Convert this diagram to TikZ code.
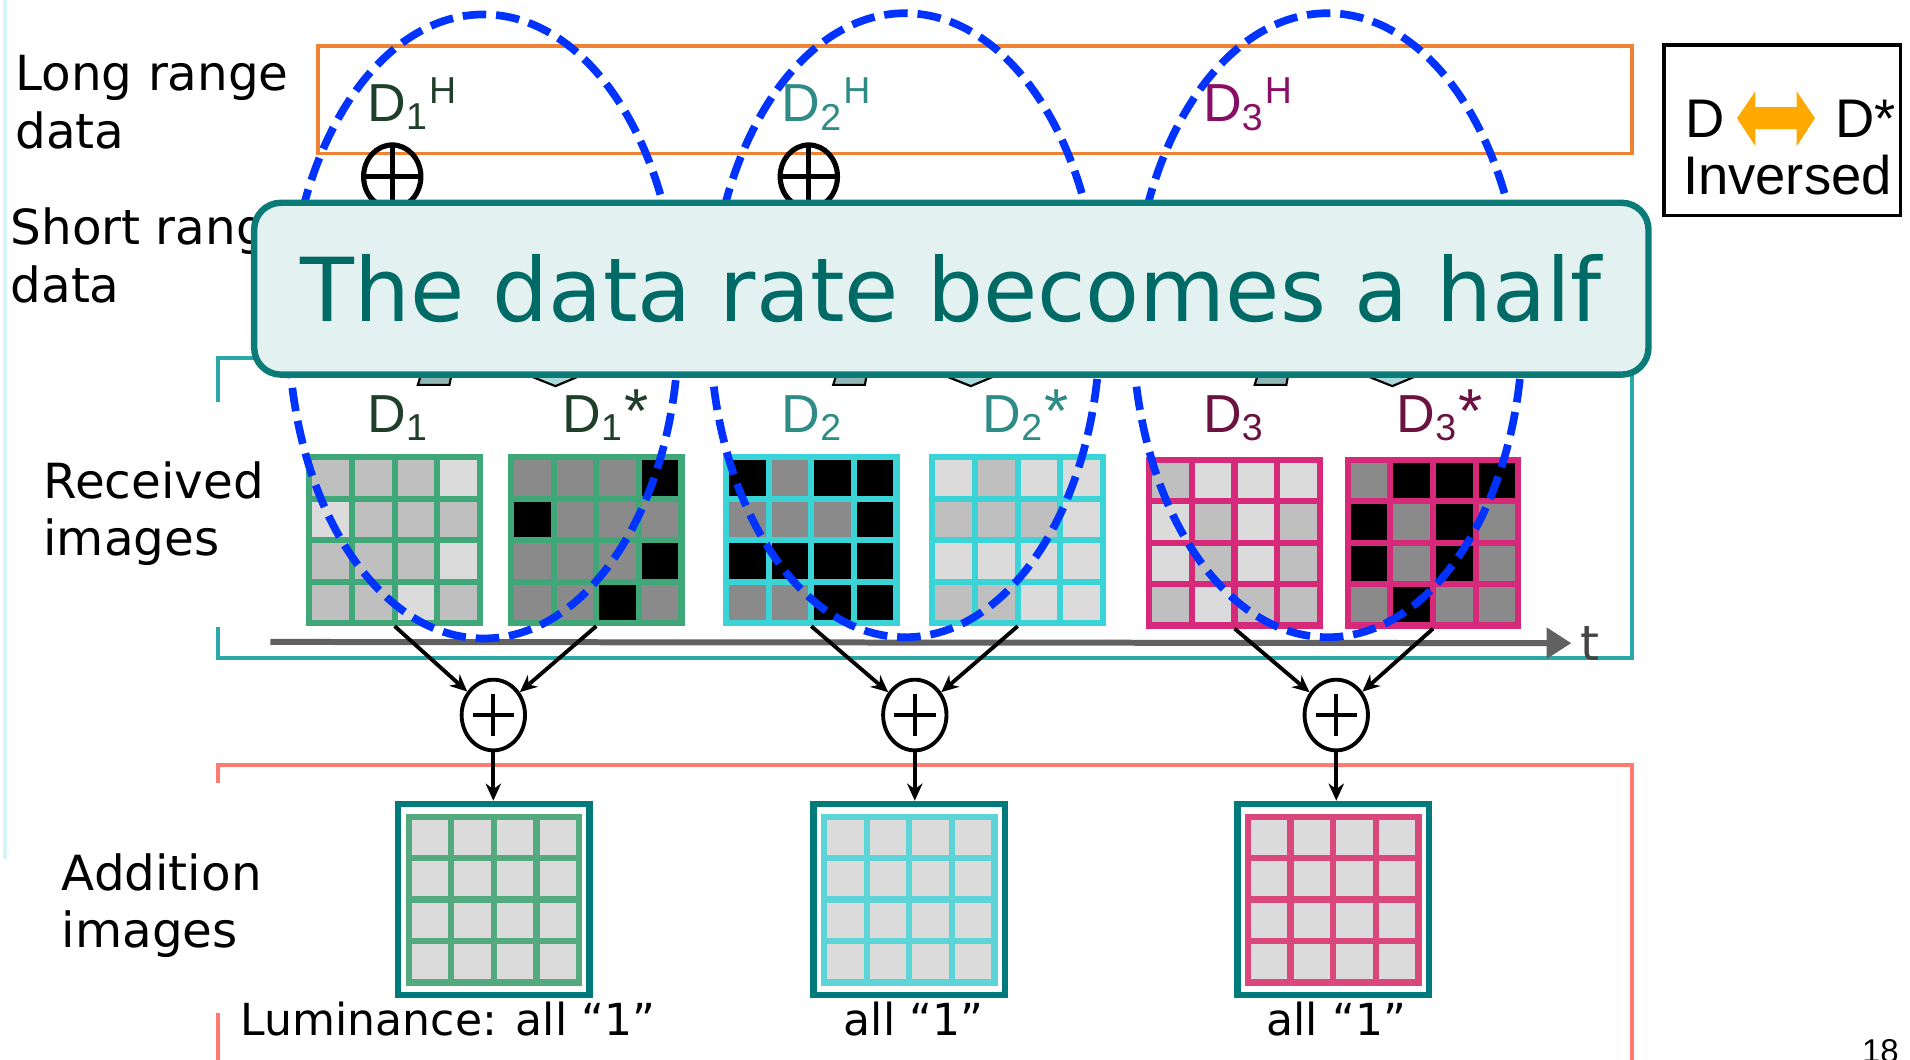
\documentclass[tikz,border=0pt]{standalone}
\usepackage{fontspec}
\setmainfont{DejaVu Sans}
\newfontfamily\arialfont{Liberation Sans}
\usetikzlibrary{arrows, arrows.meta, positioning, calc, shapes.geometric}
\definecolor{edgeC}{HTML}{D2F6F6}
\definecolor{orangeR}{HTML}{F08236}
\definecolor{tealF}{HTML}{2BA8A8}
\definecolor{salmonF}{HTML}{FF7B72}
\definecolor{ringB}{HTML}{0033FF}
\definecolor{msgF}{HTML}{E3F2F1}
\definecolor{msgD}{HTML}{0B7B78}
\definecolor{msgT}{HTML}{006B66}
\definecolor{gGreen}{HTML}{40A878}
\definecolor{gCyan}{HTML}{3AD3D6}
\definecolor{gPink}{HTML}{D6297A}
\definecolor{sGreen}{HTML}{52AA7E}
\definecolor{sCyan}{HTML}{5DD5D8}
\definecolor{sPink}{HTML}{D9477B}
\definecolor{boxT}{HTML}{007B7B}
\definecolor{labA}{HTML}{1F3F2A}
\definecolor{labB}{HTML}{2F8B85}
\definecolor{labC}{HTML}{6A1240}
\definecolor{pxL}{gray}{0.86}
\definecolor{pxM}{gray}{0.75}
\definecolor{pxD}{gray}{0.54}
\definecolor{pxK}{gray}{0}
\definecolor{axisG}{gray}{0.38}
\definecolor{legOr}{HTML}{FFA800}
\definecolor{qFill}{HTML}{8FB6B4}
\definecolor{vFill}{HTML}{A9D9D8}
\tikzset{
  lbl/.style={font=\fontsize{11.3}{13.4}\selectfont, align=left, inner sep=0pt},
  dlab/.style={font=\arialfont\fontsize{12.5}{15}\selectfont, inner sep=0pt, anchor=base west},
  grd/.style={rectangle, inner sep=0pt, outer sep=0pt, minimum width=1.45cm, minimum height=1.41cm},
  sbox/.style={rectangle, draw=boxT, line width=1.5pt, fill=white, minimum width=1.57cm, minimum height=1.57cm, inner sep=0pt},
  add/.style={ellipse, draw, line width=0.9pt, fill=white, minimum width=0.52cm, minimum height=0.58cm, inner sep=0pt,
    path picture={\draw[line width=0.9pt] ([xshift=-1.7mm]path picture bounding box.center) -- ([xshift=1.7mm]path picture bounding box.center)
      ([yshift=-1.7mm]path picture bounding box.center) -- ([yshift=1.7mm]path picture bounding box.center);}},
  xsym/.style={ellipse, draw, line width=1.2pt, minimum width=0.47cm, minimum height=0.52cm, inner sep=0pt,
    path picture={\draw[line width=1.2pt] (path picture bounding box.north) -- (path picture bounding box.south)
      (path picture bounding box.west) -- (path picture bounding box.east);}},
  ring/.style={ellipse, draw=ringB, line width=1.8pt, dash pattern=on 5.5pt off 2.3pt, minimum width=3.2cm, minimum height=5.12cm, inner sep=0pt},
  tra/.style={-{Stealth[length=4pt,width=3.6pt]}, line width=0.9pt},
  taxis/.style={-{Triangle[length=5.8pt,width=7pt]}, draw=axisG, line width=1.4pt},
  msg/.style={rectangle, rounded corners=0.22cm, draw=msgD, line width=1.5pt, fill=msgF, text=msgT,
    minimum width=11.44cm, minimum height=1.41cm, font=\fontsize{20.6}{24}\selectfont}
}
% #1 name, #2 centre, #3 line colour, #4 the 16 cells row by row
\newcommand{\pixgrid}[4]{%
  \node[grd, fill=#3] (#1) at #2 {};
  \foreach \pxc [count=\k from 0] in {#4}{%
    \pgfmathtruncatemacro{\gc}{mod(\k,4)}%
    \pgfmathtruncatemacro{\gr}{div(\k,4)}%
    \fill[\pxc] ($(#1.north west)+(5+35*\gc,5+34*\gr)$) rectangle ++(30,29);
  }%
}
\newcommand{\istar}{{\fontsize{14.5}{15}\selectfont *}}

\begin{document}
\begin{tikzpicture}[x=0.01cm, y=-0.01cm]
		\useasboundingbox (0,0) rectangle (1568,870);
		\clip (0,0) rectangle (1568,870);
		% frames
		\draw[edgeC, line width=1.1pt] (4,0) -- (4,705);
		\draw[orangeR, line width=0.9pt] (261,38) rectangle (1340,126);
		\draw[tealF, line width=0.9pt] (179,330) -- (179,294) -- (1340,294) -- (1340,540) -- (179,540) -- (179,515);
		\draw[salmonF, line width=0.9pt] (179,643) -- (179,628) -- (1340,628) -- (1340,880);
		\draw[salmonF, line width=0.9pt] (179,832) -- (179,880);
		% row labels
		\node[lbl, anchor=north west] (lrng) at (12,45) {Long range\\data};
		\node[lbl, anchor=north west] (srng) at (8,170) {Short range\\data};
		\node[lbl, anchor=north west] (recv) at (35,378) {Received\\images};
		\node[lbl, anchor=north west] (addi) at (50,700) {Addition\\images};
		% received images
		\pixgrid{g1}{(324,443.5)}{gGreen}{pxM,pxM,pxM,pxL, pxL,pxM,pxM,pxM, pxM,pxM,pxM,pxL, pxM,pxM,pxL,pxM}
		\pixgrid{g1s}{(489.5,443.5)}{gGreen}{pxD,pxD,pxD,pxK, pxK,pxD,pxD,pxD, pxD,pxD,pxD,pxK, pxD,pxD,pxK,pxD}
		\pixgrid{g2}{(666,443.5)}{gCyan}{pxK,pxD,pxK,pxK, pxD,pxD,pxD,pxK, pxK,pxK,pxK,pxK, pxD,pxD,pxK,pxK}
		\pixgrid{g2s}{(835.5,443.5)}{gCyan}{pxL,pxM,pxL,pxL, pxM,pxM,pxM,pxL, pxL,pxL,pxL,pxL, pxM,pxM,pxL,pxL}
		\pixgrid{g3}{(1013.5,445.5)}{gPink}{pxM,pxL,pxL,pxL, pxL,pxM,pxL,pxM, pxL,pxM,pxL,pxM, pxM,pxL,pxM,pxM}
		\pixgrid{g3s}{(1176.5,445.5)}{gPink}{pxD,pxK,pxK,pxK, pxK,pxD,pxK,pxD, pxK,pxD,pxK,pxD, pxD,pxK,pxD,pxD}
		\node[dlab, text=labA] (l1) at (301,355) {D\textsubscript{1}};
		\node[dlab, text=labA] (l1s) at (461,355) {D\textsubscript{1}\istar};
		\node[dlab, text=labB] (l2) at (641,355) {D\textsubscript{2}};
		\node[dlab, text=labB] (l2s) at (806,355) {D\textsubscript{2}\istar};
		\node[dlab, text=labC] (l3) at (987,355) {D\textsubscript{3}};
		\node[dlab, text=labC] (l3s) at (1146,355) {D\textsubscript{3}\istar};
		% time axis
		\coordinate (t0) at (222,527);
		\node[font=\fontsize{11.3}{13.4}\selectfont, text=axisG!70!black, anchor=west, inner xsep=0.07cm, inner ysep=0pt] (tlab) at (1290,528) {t};
		\draw[taxis] (t0) -- (tlab.west);
		% adders and addition images
		\node[add] (p1) at (405,587) {};
		\node[add] (p2) at (751,587) {};
		\node[add] (p3) at (1097,587) {};
		\node[sbox] (s1) at (405.5,738.5) {};
		\node[sbox] (s2) at (746.5,738.5) {};
		\node[sbox] (s3) at (1094.5,738.5) {};
		\pixgrid{a1}{(405.5,738.5)}{sGreen}{pxL,pxL,pxL,pxL, pxL,pxL,pxL,pxL, pxL,pxL,pxL,pxL, pxL,pxL,pxL,pxL}
		\pixgrid{a2}{(746.5,738.5)}{sCyan}{pxL,pxL,pxL,pxL, pxL,pxL,pxL,pxL, pxL,pxL,pxL,pxL, pxL,pxL,pxL,pxL}
		\pixgrid{a3}{(1094.5,738.5)}{sPink}{pxL,pxL,pxL,pxL, pxL,pxL,pxL,pxL, pxL,pxL,pxL,pxL, pxL,pxL,pxL,pxL}
		\draw[tra] (g1.south) -- (p1);
		\draw[tra] (g1s.south) -- (p1);
		\draw[tra] (g2.south) -- (p2);
		\draw[tra] (g2s.south) -- (p2);
		\draw[tra] (g3.south) -- (p3);
		\draw[tra] (g3s.south) -- (p3);
		\draw[tra] (p1) -- (p1 |- s1.north);
		\draw[tra] (p2) -- (p2 |- s2.north);
		\draw[tra] (p3) -- (p3 |- s3.north);
		\node[lbl, anchor=base west, font=\fontsize{10.3}{13}\selectfont] (lum) at (197,850) {Luminance: all “1”};
		\node[lbl, anchor=base, font=\fontsize{10.3}{13}\selectfont] (all2) at (750,850) {all “1”};
		\node[lbl, anchor=base, font=\fontsize{10.3}{13}\selectfont] (all3) at (1097,850) {all “1”};
		% long range data
		\node[dlab, text=labA] (h1) at (301,100) {D\textsubscript{1}\textsuperscript{H}};
		\node[dlab, text=labB] (h2) at (641,100) {D\textsubscript{2}\textsuperscript{H}};
		\node[dlab, text=labC!80!magenta] (h3) at (987,100) {D\textsubscript{3}\textsuperscript{H}};
		\node[xsym] (x1) at (322,145) {};
		\node[xsym] (x2) at (664,145) {};
		% pairs
		\node[ring] (r1) at (397,268) {};
		\node[ring] (r2) at (743,267) {};
		\node[ring] (r3) at (1090,267) {};
		% arrow ends under the message
		\foreach \dx in {0,341,687}{
			\filldraw[fill=qFill, draw=black, line width=0.5pt] (348+\dx,300) -- (372+\dx,300) -- (369+\dx,316) -- (343+\dx,316) -- cycle;
			\filldraw[fill=vFill, draw=black, line width=0.5pt] (416+\dx,301) -- (456+\dx,317) -- (494+\dx,301) -- cycle;
		}
		\node[msg] (note) at (781,237) {The data rate becomes a half};
		% legend
		\draw[line width=0.8pt] (1366,37) rectangle (1560,177);
		\node[dlab, font=\arialfont\fontsize{12.7}{15}\selectfont] (lgD) at (1383,113) {D};
		\node[dlab, font=\arialfont\fontsize{12.7}{15}\selectfont] (lgDs) at (1506,113) {D*};
		\node[dlab, font=\arialfont\fontsize{12.7}{15}\selectfont] (lgInv) at (1381,160) {Inversed};
		\fill[legOr] (1426,97) -- (1441,75) -- (1441,88) -- (1475,88) -- (1475,75) -- (1490,97) -- (1475,120) -- (1475,106) -- (1441,106) -- (1441,120) -- cycle;
		\node[anchor=north west, inner sep=0pt, font=\arialfont\fontsize{7.7}{9}\selectfont] (pg) at (1528,853) {18};
	\end{tikzpicture}
\end{document}
